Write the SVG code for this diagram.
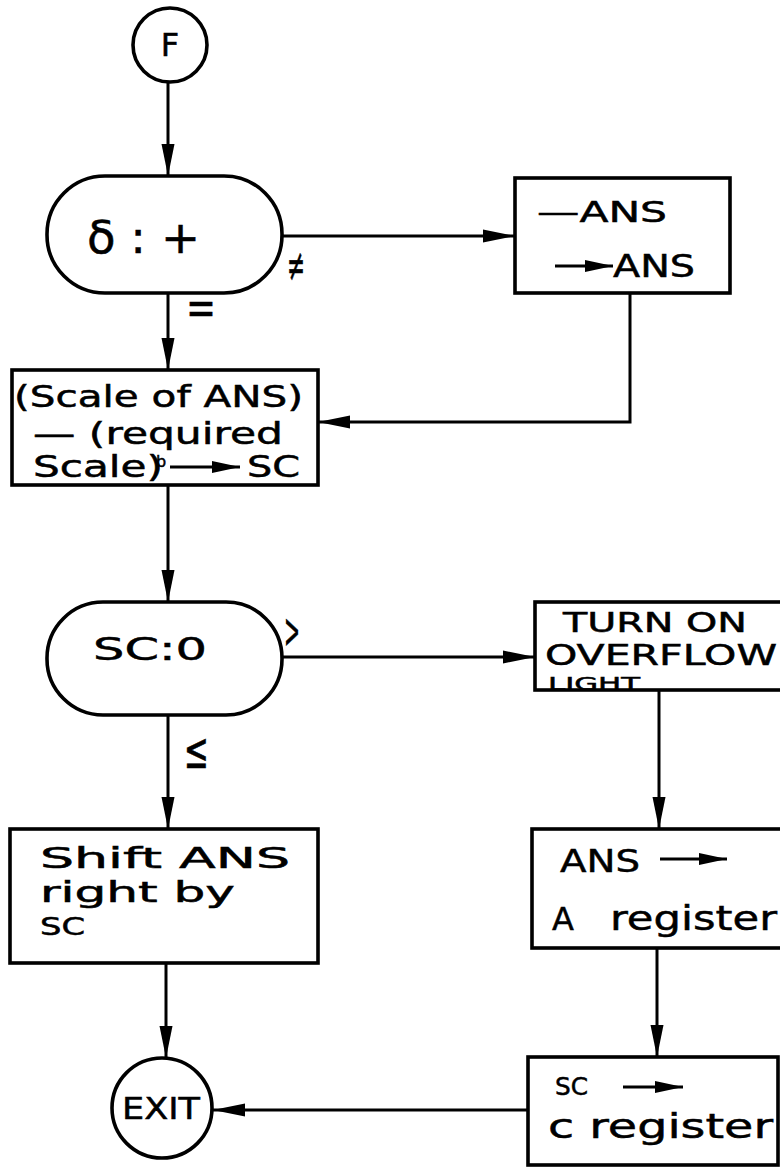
<svg xmlns="http://www.w3.org/2000/svg" width="780" height="1167" viewBox="0 0 780 1167">
  <style>
    .shape { fill: #ffffff; stroke: #000000; stroke-width: 3.6; }
    .wire { fill: none; stroke: #000000; stroke-width: 3; }
    .lbl { font-family: "DejaVu Sans", "Liberation Sans", sans-serif; fill: #000000; stroke: #000000; stroke-width: 0.5; }
  </style>
  <defs>
    <marker id="ah" markerUnits="userSpaceOnUse" markerWidth="34" markerHeight="16" refX="32" refY="8" orient="auto">
      <path d="M0,1.5 L32,8 L0,14.5 z" fill="#000000"/>
    </marker>
    <marker id="ahs" markerUnits="userSpaceOnUse" markerWidth="30" markerHeight="14" refX="28" refY="7" orient="auto">
      <path d="M0,1 L28,7 L0,13 z" fill="#000000"/>
    </marker>
  </defs>

  <rect width="780" height="1167" fill="#ffffff"/>

  <!-- flow lines between the blocks -->
  <g id="connectors">
    <line class="wire" x1="168" y1="82" x2="168" y2="176" marker-end="url(#ah)"/>
    <line class="wire" x1="282" y1="236" x2="515" y2="236" marker-end="url(#ah)"/>
    <line class="wire" x1="168" y1="293" x2="168" y2="370" marker-end="url(#ah)"/>
    <polyline class="wire" points="630,293 630,422 318,422" marker-end="url(#ah)"/>
    <line class="wire" x1="168" y1="485" x2="168" y2="602" marker-end="url(#ah)"/>
    <line class="wire" x1="282" y1="657" x2="535" y2="657" marker-end="url(#ah)"/>
    <line class="wire" x1="168" y1="715" x2="168" y2="829" marker-end="url(#ah)"/>
    <line class="wire" x1="659" y1="690" x2="659" y2="829" marker-end="url(#ah)"/>
    <line class="wire" x1="657" y1="948" x2="657" y2="1057" marker-end="url(#ah)"/>
    <line class="wire" x1="166" y1="963" x2="166" y2="1058" marker-end="url(#ah)"/>
    <line class="wire" x1="528" y1="1110" x2="213" y2="1110" marker-end="url(#ah)"/>
    <!-- branch labels -->
    <text class="lbl" x="287" y="281" font-size="46" textLength="18" lengthAdjust="spacingAndGlyphs">≠</text>
    <text class="lbl" x="186" y="324" font-size="48" textLength="30" lengthAdjust="spacingAndGlyphs">=</text>
    <text class="lbl" x="284" y="648" font-size="50" textLength="16" lengthAdjust="spacingAndGlyphs">&gt;</text>
    <text class="lbl" x="184" y="768" font-size="50" textLength="25" lengthAdjust="spacingAndGlyphs">≤</text>
  </g>

  <g id="start">
    <circle class="shape" cx="170" cy="45" r="37"/>
    <text class="lbl" x="170" y="56" font-size="32" text-anchor="middle">F</text>
  </g>

  <g id="test-sign">
    <rect class="shape" x="47" y="176" width="235" height="117" rx="58" ry="58"/>
    <text class="lbl" x="87" y="253" font-size="44" textLength="113" lengthAdjust="spacingAndGlyphs">δ : +</text>
  </g>

  <g id="negate-ans">
    <rect class="shape" x="515" y="178" width="215" height="115"/>
    <text class="lbl" x="537" y="222" font-size="28" textLength="130" lengthAdjust="spacingAndGlyphs">—ANS</text>
    <line class="wire" x1="555" y1="266" x2="613" y2="266" marker-end="url(#ahs)"/>
    <text class="lbl" x="613" y="277" font-size="32" textLength="82" lengthAdjust="spacingAndGlyphs">ANS</text>
  </g>

  <g id="scale-diff">
    <rect class="shape" x="12" y="370" width="306" height="115"/>
    <text class="lbl" x="14" y="407" font-size="30" textLength="289" lengthAdjust="spacingAndGlyphs">(Scale of ANS)</text>
    <text class="lbl" x="33" y="444" font-size="30" textLength="250" lengthAdjust="spacingAndGlyphs">— (required</text>
    <text class="lbl" x="156" y="467" font-size="16">b</text>
    <text class="lbl" x="33" y="477" font-size="30" textLength="130" lengthAdjust="spacingAndGlyphs">Scale)</text>
    <line class="wire" x1="170" y1="467" x2="240" y2="467" marker-end="url(#ahs)"/>
    <text class="lbl" x="247" y="477" font-size="30" textLength="53" lengthAdjust="spacingAndGlyphs">SC</text>
  </g>

  <g id="test-sc">
    <rect class="shape" x="47" y="602" width="235" height="113" rx="56" ry="56"/>
    <text class="lbl" x="93" y="660" font-size="32" textLength="114" lengthAdjust="spacingAndGlyphs">SC:0</text>
  </g>

  <g id="overflow-light">
    <rect class="shape" x="535" y="602" width="250" height="88"/>
    <text class="lbl" x="563" y="632" font-size="26" textLength="184" lengthAdjust="spacingAndGlyphs">TURN ON</text>
    <text class="lbl" x="545" y="665" font-size="28" textLength="232" lengthAdjust="spacingAndGlyphs">OVERFLOW</text>
    <text class="lbl" x="548" y="690" font-size="18" textLength="92" lengthAdjust="spacingAndGlyphs">LIGHT</text>
  </g>

  <g id="shift-ans">
    <rect class="shape" x="10" y="829" width="308" height="134"/>
    <text class="lbl" x="40" y="868" font-size="28" textLength="250" lengthAdjust="spacingAndGlyphs">Shift  ANS</text>
    <text class="lbl" x="40" y="902" font-size="28" textLength="195" lengthAdjust="spacingAndGlyphs">right by</text>
    <text class="lbl" x="40" y="935" font-size="24" textLength="45" lengthAdjust="spacingAndGlyphs">SC</text>
  </g>

  <g id="ans-to-a">
    <rect class="shape" x="532" y="829" width="252" height="119"/>
    <text class="lbl" x="560" y="872" font-size="32" textLength="80" lengthAdjust="spacingAndGlyphs">ANS</text>
    <line class="wire" x1="660" y1="859" x2="727" y2="859" marker-end="url(#ahs)"/>
    <text class="lbl" x="552" y="930" font-size="32">A</text>
    <text class="lbl" x="610" y="930" font-size="34" textLength="167" lengthAdjust="spacingAndGlyphs">register</text>
  </g>

  <g id="sc-to-c">
    <rect class="shape" x="528" y="1057" width="250" height="108"/>
    <text class="lbl" x="555" y="1095" font-size="25" textLength="33" lengthAdjust="spacingAndGlyphs">SC</text>
    <line class="wire" x1="623" y1="1087" x2="683" y2="1087" marker-end="url(#ahs)"/>
    <text class="lbl" x="548" y="1138" font-size="34" textLength="225" lengthAdjust="spacingAndGlyphs">c register</text>
  </g>

  <g id="exit">
    <circle class="shape" cx="162" cy="1108" r="50"/>
    <text class="lbl" x="122" y="1119" font-size="30" textLength="78" lengthAdjust="spacingAndGlyphs">EXIT</text>
  </g>
</svg>
